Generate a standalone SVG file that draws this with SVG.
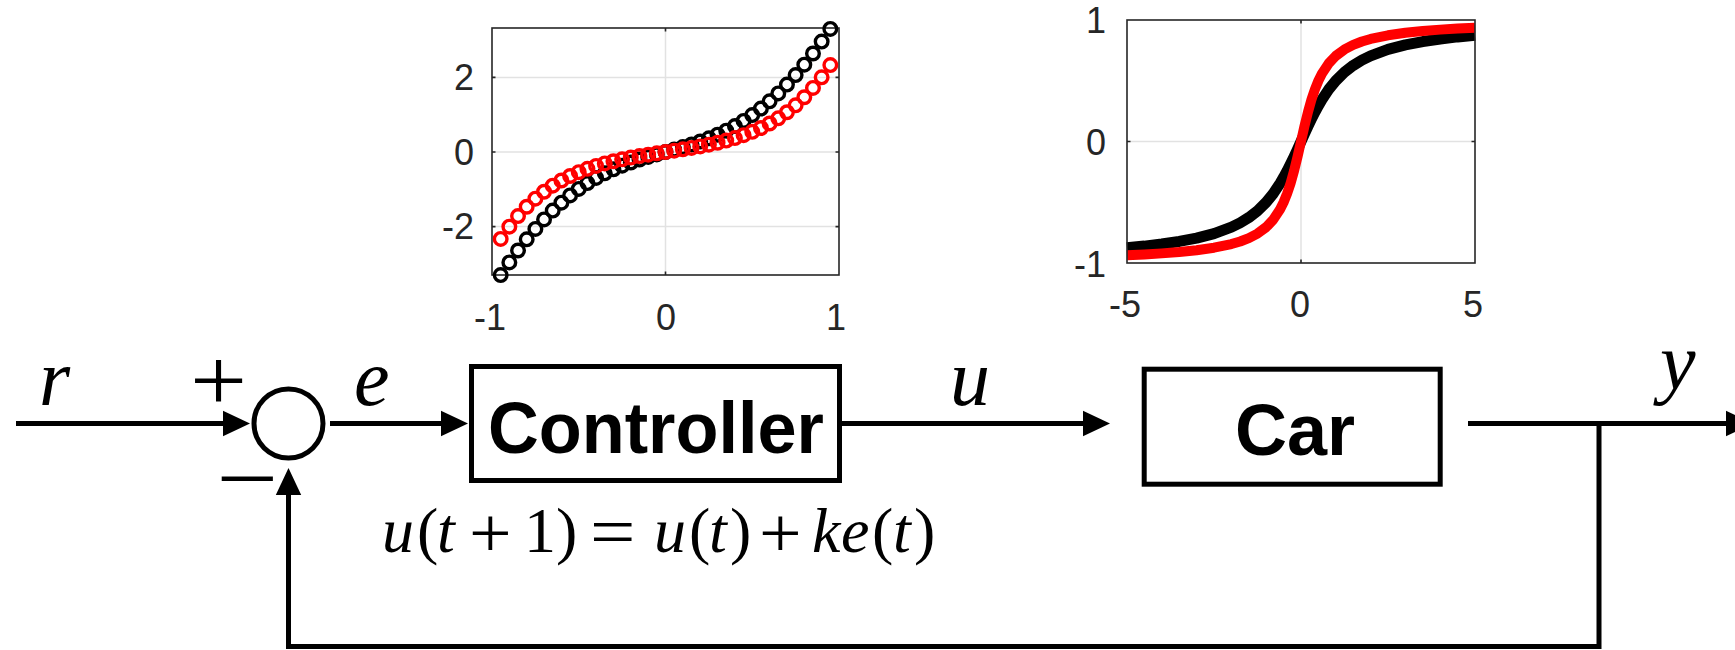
<svg xmlns="http://www.w3.org/2000/svg" width="1735" height="650" viewBox="0 0 1735 650">
<defs>
<style>
.ax{fill:none;stroke:#262626;stroke-width:1.6}
.grid{fill:none;stroke:#e2e2e2;stroke-width:1.5}
.tk{font-family:"Liberation Sans",Arial,Helvetica,sans-serif;font-size:36px;fill:#262626}
.mkb{fill:none;stroke:#000;stroke-width:3.4}
.mkr{fill:none;stroke:#ff0000;stroke-width:3.4}
.lb{fill:none;stroke:#000;stroke-width:11;stroke-linejoin:round}
.lr{fill:none;stroke:#ff0000;stroke-width:10;stroke-linejoin:round}
.wire{fill:none;stroke:#000;stroke-width:5}
.box{fill:#fff;stroke:#000;stroke-width:5}
.blk{font-family:"Liberation Sans",Arial,Helvetica,sans-serif;font-weight:bold;font-size:72px;text-anchor:middle;fill:#000}
.mi{font-family:"Liberation Serif","Times New Roman",serif;font-style:italic;font-size:80px;fill:#000}
.sg{font-family:"Liberation Serif","DejaVu Serif",serif;font-size:88px;text-anchor:middle;fill:#000}
.eq{font-family:"Liberation Serif","Times New Roman",serif;font-size:64px;fill:#000}
.op{font-family:"Liberation Serif","Times New Roman",serif;font-size:72px;fill:#000}
.it{font-style:italic}
</style>
<marker id="arr" markerUnits="userSpaceOnUse" markerWidth="28" markerHeight="26" refX="2" refY="12.7" orient="auto" overflow="visible">
<path d="M0,0 L27,12.7 L0,25.4 Z" fill="#000"/>
</marker>
</defs>
<rect width="1735" height="650" fill="#fff"/>

<g id="plot-left">
<rect x="492" y="28" width="347" height="247" fill="#fff"/>
<path class="grid" d="M665.5,28V275M492,77.4H839M492,152H839M492,226.6H839"/>
<path class="ax" d="M665.5,275v-3.5M665.5,28v3.5M492,77.4h3.5M492,152h3.5M492,226.6h3.5M839,77.4h-3.5M839,152h-3.5M839,226.6h-3.5"/>
<rect class="ax" x="492" y="28" width="347" height="247"/>
<g class="mkb">
<circle cx="500.68" cy="275.12" r="6.3"/><circle cx="509.35" cy="262.43" r="6.3"/><circle cx="518.03" cy="250.48" r="6.3"/><circle cx="526.7" cy="239.32" r="6.3"/><circle cx="535.38" cy="228.95" r="6.3"/><circle cx="544.05" cy="219.38" r="6.3"/><circle cx="552.73" cy="210.62" r="6.3"/><circle cx="561.4" cy="202.63" r="6.3"/><circle cx="570.08" cy="195.41" r="6.3"/><circle cx="578.75" cy="188.92" r="6.3"/><circle cx="587.43" cy="183.11" r="6.3"/><circle cx="596.1" cy="177.94" r="6.3"/><circle cx="604.78" cy="173.36" r="6.3"/><circle cx="613.45" cy="169.3" r="6.3"/><circle cx="622.13" cy="165.69" r="6.3"/><circle cx="630.8" cy="162.48" r="6.3"/><circle cx="639.48" cy="159.58" r="6.3"/><circle cx="648.15" cy="156.92" r="6.3"/><circle cx="656.83" cy="154.42" r="6.3"/><circle cx="665.5" cy="152" r="6.3"/><circle cx="674.18" cy="149.58" r="6.3"/><circle cx="682.85" cy="147.08" r="6.3"/><circle cx="691.53" cy="144.42" r="6.3"/><circle cx="700.2" cy="141.52" r="6.3"/><circle cx="708.88" cy="138.31" r="6.3"/><circle cx="717.55" cy="134.7" r="6.3"/><circle cx="726.23" cy="130.64" r="6.3"/><circle cx="734.9" cy="126.06" r="6.3"/><circle cx="743.58" cy="120.89" r="6.3"/><circle cx="752.25" cy="115.08" r="6.3"/><circle cx="760.93" cy="108.59" r="6.3"/><circle cx="769.6" cy="101.37" r="6.3"/><circle cx="778.28" cy="93.38" r="6.3"/><circle cx="786.95" cy="84.62" r="6.3"/><circle cx="795.63" cy="75.05" r="6.3"/><circle cx="804.3" cy="64.68" r="6.3"/><circle cx="812.98" cy="53.52" r="6.3"/><circle cx="821.65" cy="41.57" r="6.3"/><circle cx="830.33" cy="28.88" r="6.3"/>
</g>
<g class="mkr">
<circle cx="500.68" cy="238.9" r="6.3"/><circle cx="509.35" cy="226.69" r="6.3"/><circle cx="518.03" cy="216.04" r="6.3"/><circle cx="526.7" cy="206.76" r="6.3"/><circle cx="535.38" cy="198.71" r="6.3"/><circle cx="544.05" cy="191.73" r="6.3"/><circle cx="552.73" cy="185.7" r="6.3"/><circle cx="561.4" cy="180.49" r="6.3"/><circle cx="570.08" cy="176.01" r="6.3"/><circle cx="578.75" cy="172.13" r="6.3"/><circle cx="587.43" cy="168.8" r="6.3"/><circle cx="596.1" cy="165.92" r="6.3"/><circle cx="604.78" cy="163.42" r="6.3"/><circle cx="613.45" cy="161.24" r="6.3"/><circle cx="622.13" cy="159.32" r="6.3"/><circle cx="630.8" cy="157.62" r="6.3"/><circle cx="639.48" cy="156.07" r="6.3"/><circle cx="648.15" cy="154.65" r="6.3"/><circle cx="656.83" cy="153.31" r="6.3"/><circle cx="665.5" cy="152" r="6.3"/><circle cx="674.18" cy="150.69" r="6.3"/><circle cx="682.85" cy="149.35" r="6.3"/><circle cx="691.53" cy="147.93" r="6.3"/><circle cx="700.2" cy="146.38" r="6.3"/><circle cx="708.88" cy="144.68" r="6.3"/><circle cx="717.55" cy="142.76" r="6.3"/><circle cx="726.23" cy="140.58" r="6.3"/><circle cx="734.9" cy="138.08" r="6.3"/><circle cx="743.58" cy="135.2" r="6.3"/><circle cx="752.25" cy="131.87" r="6.3"/><circle cx="760.93" cy="127.99" r="6.3"/><circle cx="769.6" cy="123.51" r="6.3"/><circle cx="778.28" cy="118.3" r="6.3"/><circle cx="786.95" cy="112.27" r="6.3"/><circle cx="795.63" cy="105.29" r="6.3"/><circle cx="804.3" cy="97.24" r="6.3"/><circle cx="812.98" cy="87.96" r="6.3"/><circle cx="821.65" cy="77.31" r="6.3"/><circle cx="830.33" cy="65.1" r="6.3"/>
</g>
<g class="tk" text-anchor="end">
<text x="474" y="90">2</text>
<text x="474" y="165">0</text>
<text x="474" y="239">-2</text>
</g>
<g class="tk" text-anchor="middle">
<text x="490" y="330">-1</text>
<text x="666" y="330">0</text>
<text x="836" y="330">1</text>
</g>
</g>

<g id="plot-right">
<rect x="1127" y="20" width="348" height="243" fill="#fff"/>
<path class="grid" d="M1301,20V263M1127,141.5H1475"/>
<path class="ax" d="M1301,263v-3.5M1301,20v3.5M1127,141.5h3.5M1475,141.5h-3.5"/>
<polyline class="lb" points="1127,247.73 1144.4,246.09 1161.8,244.05 1179.2,241.47 1196.6,238.11 1214,233.57 1231.4,227.14 1240.1,222.84 1248.8,217.52 1257.5,210.81 1266.2,202.25 1273.16,193.69 1280.12,183.3 1283.6,177.36 1287.08,170.93 1290.56,164.04 1294.04,156.77 1297.52,149.21 1301,141.5 1304.48,133.79 1307.96,126.23 1311.44,118.96 1314.92,112.07 1318.4,105.64 1321.88,99.7 1328.84,89.31 1335.8,80.75 1344.5,72.19 1353.2,65.48 1361.9,60.16 1370.6,55.86 1388,49.43 1405.4,44.89 1422.8,41.53 1440.2,38.95 1457.6,36.91 1475,35.27"/>
<polyline class="lr" points="1127,255.29 1144.4,254.44 1161.8,253.38 1179.2,252.02 1196.6,250.23 1214,247.73 1231.4,244.05 1240.1,241.47 1248.8,238.11 1257.5,233.57 1266.2,227.14 1273.16,219.79 1280.12,209.26 1283.6,202.25 1287.08,193.69 1290.56,183.3 1294.04,170.93 1297.52,156.77 1301,141.5 1304.48,126.23 1307.96,112.07 1311.44,99.7 1314.92,89.31 1318.4,80.75 1321.88,73.74 1328.84,63.21 1335.8,55.86 1344.5,49.43 1353.2,44.89 1361.9,41.53 1370.6,38.95 1388,35.27 1405.4,32.77 1422.8,30.98 1440.2,29.62 1457.6,28.56 1475,27.71"/>
<rect class="ax" x="1127" y="20" width="348" height="243"/>
<g class="tk" text-anchor="end">
<text x="1106" y="33">1</text>
<text x="1106" y="155">0</text>
<text x="1106" y="277">-1</text>
</g>
<g class="tk" text-anchor="middle">
<text x="1125" y="317">-5</text>
<text x="1300" y="317">0</text>
<text x="1473" y="317">5</text>
</g>
</g>

<g id="connectors">
<path class="wire" d="M16,423.5H225" marker-end="url(#arr)"/>
<path class="wire" d="M330,423.5H443" marker-end="url(#arr)"/>
<path class="wire" d="M842,423.5H1085" marker-end="url(#arr)"/>
<path class="wire" d="M1468,423.5H1728" marker-end="url(#arr)"/>
<path class="wire" d="M1599,423.5V646.5H288.5V493" marker-end="url(#arr)"/>
</g>

<g id="sum">
<circle cx="288.5" cy="423.5" r="34.5" fill="#fff" stroke="#000" stroke-width="5"/>
<text class="sg" transform="translate(218.5,409.5) scale(1.15,1)">+</text>
<text class="sg" transform="translate(247.5,507.5) scale(1.25,1)">−</text>
</g>

<g id="controller">
<rect class="box" x="471.5" y="366.5" width="368" height="114"/>
<text class="blk" x="656" y="453" textLength="336" lengthAdjust="spacingAndGlyphs">Controller</text>
</g>

<g id="car">
<rect class="box" x="1144.2" y="369.2" width="296" height="115"/>
<text class="blk" x="1295" y="455">Car</text>
</g>

<g id="labels">
<text class="mi" x="39" y="405">r</text>
<text class="mi" x="354" y="405">e</text>
<text class="mi" x="950" y="405">u</text>
<text class="mi" x="1660" y="389">y</text>
<text class="eq" y="552"><tspan class="it" x="382">u</tspan><tspan x="417">(</tspan><tspan class="it" x="437">t</tspan><tspan x="524">1</tspan><tspan x="556">)</tspan><tspan class="it" x="654">u</tspan><tspan x="689">(</tspan><tspan class="it" x="709">t</tspan><tspan x="730">)</tspan><tspan class="it" x="812">k</tspan><tspan class="it" x="841">e</tspan><tspan x="872">(</tspan><tspan class="it" x="893">t</tspan><tspan x="914">)</tspan></text>
<text class="op" transform="translate(469,557) scale(1.05,1)">+</text>
<text class="op" transform="translate(590,556) scale(1.12,1)">=</text>
<text class="op" transform="translate(759,557) scale(1.05,1)">+</text>
</g>
</svg>
